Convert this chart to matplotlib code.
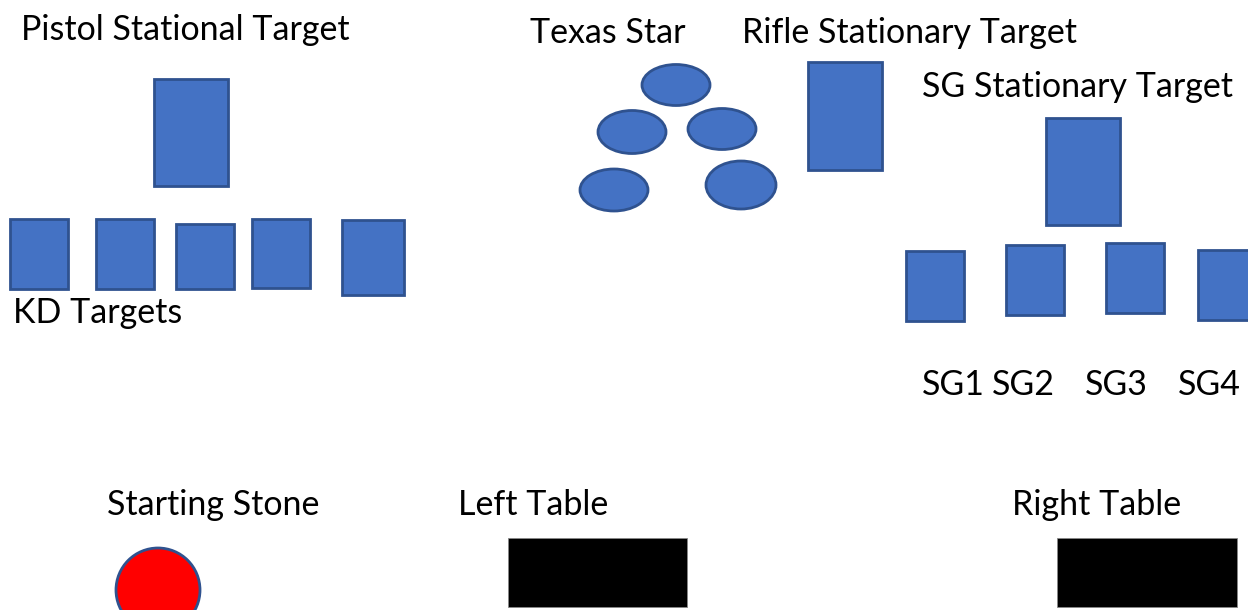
import matplotlib.pyplot as plt
from matplotlib.patches import Rectangle, Ellipse

plt.rcParams['font.family'] = ['Lato', 'DejaVu Sans']

# Layout of the stage (pixel units, y grows downwards)
# rectangular targets: left, top, right, bottom
pistol_target = [154, 79, 228, 186]
kd_targets = [
    [10, 219, 68, 289],
    [96, 219, 154, 289],
    [176, 224, 234, 289],
    [252, 219, 310, 288],
    [342, 220, 404, 295],
]
rifle_target = [808, 62, 882, 170]
sg_stationary = [1046, 118, 1120, 225]
sg_targets = [
    [906, 251, 964, 321],
    [1006, 245, 1064, 315],
    [1106, 243, 1164, 313],
    [1198, 250, 1256, 320],
]
# texas star plates: center x, center y, width, height
texas_star = [
    [676, 85, 68, 41],
    [632, 132, 68, 43],
    [722, 129, 68, 41],
    [614, 190, 68, 42],
    [741, 185, 70, 48],
]
starting_stone = [158, 590, 84, 84]
tables = [
    [508, 538, 687, 607],
    [1057, 538, 1237, 607],
]

# labels: text, x, baseline y
labels = ['Pistol Stational Target', 'Texas Star', 'Rifle Stationary Target',
          'SG Stationary Target', 'KD Targets', 'SG1', 'SG2', 'SG3', 'SG4',
          'Starting Stone', 'Left Table', 'Right Table']
label_x = [21, 530, 742, 922, 13, 922, 992, 1085, 1178, 107, 458, 1012]
label_y = [40, 43, 43, 97, 323, 395, 395, 395, 395, 515, 515, 515]

blue = '#4472C4'
blue_edge = '#2F528F'

fig = plt.figure(figsize=(12.48, 6.10), dpi=100)
ax = fig.add_axes([0, 0, 1, 1])
ax.set_xlim(0, 1248)
ax.set_ylim(610, 0)
ax.axis('off')


def add_rect(box, face, edge, lw):
    l, t, r, b = box
    ax.add_patch(Rectangle((l, t), r - l, b - t, facecolor=face,
                           edgecolor=edge, linewidth=lw))


for box in [pistol_target, rifle_target, sg_stationary] + kd_targets + sg_targets:
    add_rect(box, blue, blue_edge, 2)

for cx, cy, w, h in texas_star:
    ax.add_patch(Ellipse((cx, cy), w, h, facecolor=blue,
                         edgecolor=blue_edge, linewidth=2))

cx, cy, w, h = starting_stone
ax.add_patch(Ellipse((cx, cy), w, h, facecolor='#FF0000',
                     edgecolor=blue_edge, linewidth=2))

for box in tables:
    add_rect(box, 'black', '#888888', 0.6)

for txt, x, y in zip(labels, label_x, label_y):
    ax.text(x, y, txt, fontsize=24.5, color='black', ha='left', va='baseline')

fig.savefig('out.png', dpi=100)
